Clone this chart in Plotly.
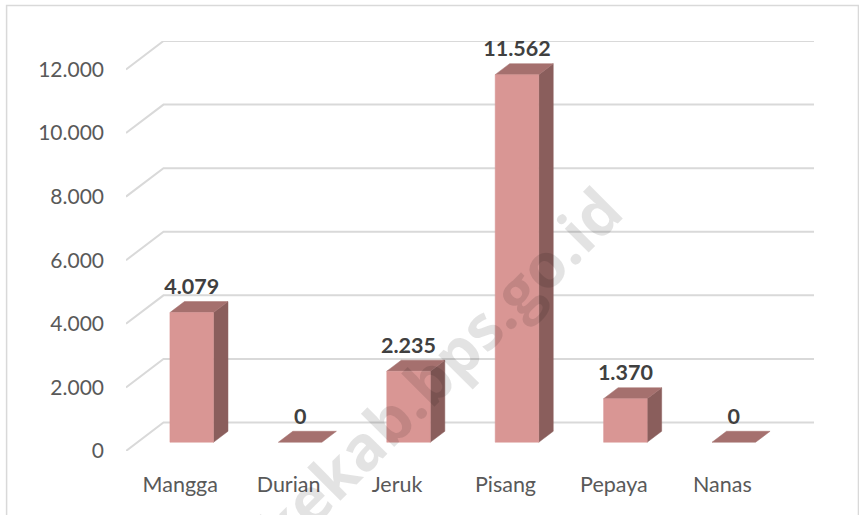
import plotly.graph_objects as go

categories = ["Mangga", "Durian", "Jeruk", "Pisang", "Pepaya", "Nanas"]
values = [4079, 0, 2235, 11562, 1370, 0]
tick_values = [0, 2000, 4000, 6000, 8000, 10000, 12000]
tick_labels = ["0", "2.000", "4.000", "6.000", "8.000", "10.000", "12.000"]

# plot frame in page pixels
LEFT, RIGHT, TOP, FLOOR = 125.5, 814, 40.5, 451.2
PX_X = 108.5          # pixels per category
PX_Y = 63.7 / 2000    # pixels per unit of value
FW = 37.5 / PX_X      # floor depth, x units
FH = 28.5 / PX_Y      # floor depth, value units
BW = 14.5 / PX_X      # bar depth, x units
BH = 11.0 / PX_Y      # bar depth, value units
BAR = 43.6 / PX_X     # bar width
INX = 0.5 * (FW - BW)
INY = 0.5 * (FH - BH)

FRONT = "#D99694"
TOPC = "#A5706E"
SIDE = "#8A5E5C"
GRID = "#D9D9D9"

fig = go.Figure()

for v in tick_values:
    fig.add_trace(go.Scatter(
        x=[0, FW, len(categories) + FW], y=[v, v + FH, v + FH],
        mode="lines", line=dict(color=GRID, width=2),
        hoverinfo="skip", showlegend=False))


def poly(xs, ys, color):
    fig.add_trace(go.Scatter(
        x=xs, y=ys, mode="lines", fill="toself", fillcolor=color,
        line=dict(color=color, width=0.5), hoverinfo="skip", showlegend=False))


for i, (c, v) in enumerate(zip(categories, values)):
    x0 = i + 0.5 + INX - BAR / 2
    x1 = x0 + BAR
    y0 = INY
    y1 = INY + v
    if v > 0:
        poly([x1, x1 + BW, x1 + BW, x1, x1], [y0, y0 + BH, y1 + BH, y1, y0], SIDE)
    poly([x0, x1, x1 + BW, x0 + BW, x0], [y1, y1, y1 + BH, y1 + BH, y1], TOPC)
    if v > 0:
        poly([x0, x1, x1, x0, x0], [y0, y0, y1, y1, y0], FRONT)

fig.add_trace(go.Scatter(
    x=[i + 0.5 + INX for i in range(len(categories))],
    y=[v + INY + 23.8 / PX_Y for v in values],
    mode="text",
    text=[f"{v:,}".replace(",", ".") for v in values],
    textposition="middle center",
    textfont=dict(family="Lato", size=21.5, color="#404040", weight="bold"),
    cliponaxis=False,
    hoverinfo="skip", showlegend=False))

fig.update_layout(
    width=859, height=515,
    margin=dict(l=LEFT, r=859 - RIGHT, t=TOP, b=515 - FLOOR, pad=0),
    paper_bgcolor="white", plot_bgcolor="white",
    font=dict(family="Lato", color="#595959", size=21),
    showlegend=False,
    xaxis=dict(range=[0, (RIGHT - LEFT) / PX_X], showgrid=False, zeroline=False,
               showline=False, tickmode="array",
               tickvals=[i + 0.5 for i in range(len(categories))], ticktext=categories,
               tickfont=dict(size=21.5), ticks="", ticklabelstandoff=18),
    yaxis=dict(range=[0, (FLOOR - TOP) / PX_Y], showgrid=False, zeroline=False,
               showline=False, tickmode="array", tickvals=tick_values,
               ticktext=tick_labels, ticks="", ticklabelstandoff=21),
    shapes=[dict(type="rect", xref="paper", yref="paper",
                 x0=(6 - LEFT) / (RIGHT - LEFT), x1=(858.5 - LEFT) / (RIGHT - LEFT),
                 y0=(FLOOR - 530) / (FLOOR - TOP), y1=(FLOOR - 5) / (FLOOR - TOP),
                 line=dict(color=GRID, width=1.5), layer="below")],
    annotations=[dict(text="kekab.bps.go.id", xref="paper", yref="paper",
                      x=(438 - LEFT) / (RIGHT - LEFT), y=(FLOOR - 369) / (FLOOR - TOP),
                      xanchor="center", yanchor="middle",
                      showarrow=False, textangle=-45,
                      font=dict(family="Open Sans", size=62, color="rgba(0,0,0,0.11)", weight="bold"))],
)

fig.write_html("out.html", config={"displayModeBar": False},
               post_script="document.body.style.margin='0';document.body.style.overflow='hidden';")
